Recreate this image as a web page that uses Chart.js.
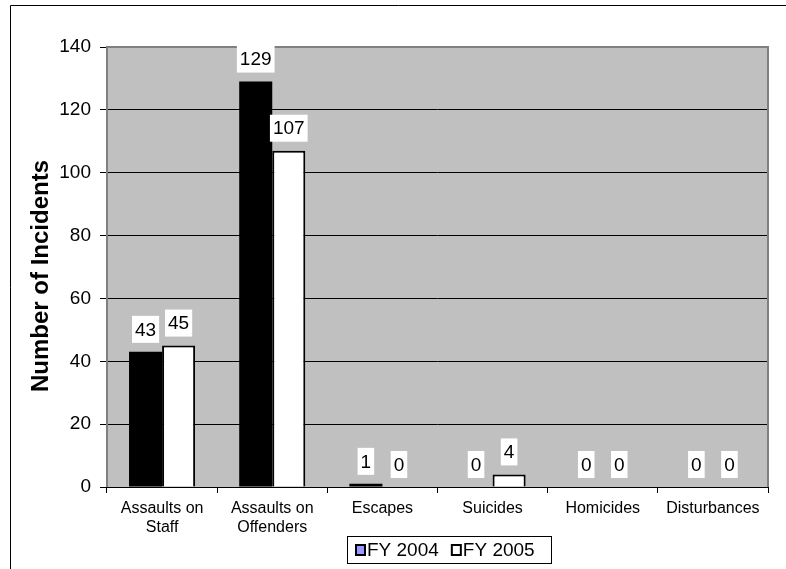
<!DOCTYPE html>
<html>
<head>
<meta charset="utf-8">
<script src="https://cdn.jsdelivr.net/npm/chart.js@4"></script>
<style>
  html, body { margin: 0; padding: 0; background: #fff; }
  #wrap { width: 786px; height: 569px; }
</style>
</head>
<body>
<div id="wrap"><canvas id="chart"></canvas></div>
<script>
const categories = [['Assaults on', 'Staff'], ['Assaults on', 'Offenders'], 'Escapes', 'Suicides', 'Homicides', 'Disturbances'];
const fy2004 = [43, 129, 1, 0, 0, 0];
const fy2005 = [45, 107, 0, 4, 0, 0];
const yTicks = [0, 20, 40, 60, 80, 100, 120, 140];
const yTitle = 'Number of Incidents';
const legendColors = ['#9999ff', '#ffffff'];

const FONT = 'Arial, "Liberation Sans", sans-serif';

// frame, plot background, plot border, axis title
const backdrop = {
    id: 'backdrop',
    beforeDraw(chart) {
        const { ctx, chartArea: a } = chart;
        ctx.save();
        ctx.strokeStyle = '#000';
        ctx.lineWidth = 1;
        ctx.beginPath();
        ctx.moveTo(10.5, 569);
        ctx.lineTo(10.5, 5.5);
        ctx.lineTo(786, 5.5);
        ctx.stroke();
        ctx.fillStyle = '#c0c0c0';
        ctx.fillRect(a.left, a.top, a.right - a.left, a.bottom - a.top);

        ctx.translate(41, (a.top + a.bottom) / 2 + 9);
        ctx.rotate(-Math.PI / 2);
        ctx.fillStyle = '#000';
        ctx.font = 'bold 24px ' + FONT;
        ctx.textAlign = 'center';
        ctx.textBaseline = 'middle';
        ctx.fillText(yTitle, 0, 0);
        ctx.restore();
    },
    beforeDatasetsDraw(chart) {
        const { ctx, chartArea: a } = chart;
        ctx.save();
        ctx.strokeStyle = '#808080';
        ctx.lineWidth = 2;
        ctx.beginPath();
        ctx.moveTo(a.left, a.bottom);
        ctx.lineTo(a.left, a.top);
        ctx.lineTo(a.right, a.top);
        ctx.lineTo(a.right, a.bottom);
        ctx.stroke();
        ctx.restore();
    }
};

// value labels on white boxes above each bar
const valueLabels = {
    id: 'valueLabels',
    afterDatasetsDraw(chart) {
        const { ctx } = chart;
        ctx.save();
        ctx.font = '19px ' + FONT;
        ctx.textAlign = 'center';
        ctx.textBaseline = 'middle';
        chart.data.datasets.forEach((ds, i) => {
            chart.getDatasetMeta(i).data.forEach((bar, j) => {
                const txt = String(ds.data[j]);
                const w = ctx.measureText(txt).width + 6;
                const h = 27;
                const bottom = bar.y - 9;
                ctx.fillStyle = '#fff';
                ctx.fillRect(bar.x - w / 2, bottom - h, w, h);
                ctx.fillStyle = '#000';
                ctx.fillText(txt, bar.x, bottom - h / 2 + 1);
            });
        });
        ctx.restore();
    }
};

// boxed legend below the axis
const boxLegend = {
    id: 'boxLegend',
    afterDraw(chart) {
        const { ctx } = chart;
        ctx.save();
        ctx.font = '19px ' + FONT;
        ctx.textBaseline = 'middle';
        ctx.textAlign = 'left';
        const cy = 550;
        let x = 355;
        chart.data.datasets.forEach((ds, i) => {
            ctx.fillStyle = legendColors[i];
            ctx.fillRect(x + 1, cy - 5, 9, 10);
            ctx.strokeStyle = '#000';
            ctx.lineWidth = 2;
            ctx.strokeRect(x + 1, cy - 5, 9, 10);
            ctx.fillStyle = '#000';
            ctx.fillText(ds.label, x + 12, cy + 1);
            x += 12 + ctx.measureText(ds.label).width + 12;
        });
        ctx.strokeStyle = '#000';
        ctx.lineWidth = 1;
        ctx.strokeRect(347.5, 536.5, Math.round(x - 12 + 16 - 347), 27);
        ctx.restore();
    }
};

new Chart(document.getElementById('chart'), {
    type: 'bar',
    data: {
        labels: categories,
        datasets: [
            {
                label: 'FY 2004',
                data: fy2004,
                backgroundColor: '#000',
                borderColor: '#000',
                borderWidth: 0,
                categoryPercentage: 0.6,
                barPercentage: 1
            },
            {
                label: 'FY 2005',
                data: fy2005,
                backgroundColor: '#fff',
                borderColor: '#000',
                borderWidth: 2,
                categoryPercentage: 0.6,
                barPercentage: 1
            }
        ]
    },
    options: {
        responsive: true,
        maintainAspectRatio: false,
        animation: false,
        layout: { padding: { top: 47, right: 18, left: 0, bottom: 32 } },
        plugins: {
            tooltip: { enabled: false },
            legend: { display: false }
        },
        scales: {
            x: {
                grid: { drawOnChartArea: false, color: '#000', tickLength: 6, offset: true },
                border: { color: '#000', width: 1 },
                ticks: { color: '#000', font: { family: FONT, size: 16 }, maxRotation: 0, autoSkip: false, padding: 6 },
                afterFit(scale) {
                    scale.height = 50;
                }
            },
            y: {
                min: yTicks[0],
                max: yTicks[yTicks.length - 1],
                afterBuildTicks(scale) {
                    scale.ticks = yTicks.map(v => ({ value: v }));
                },
                grid: { color: '#000', tickLength: 7 },
                border: { display: false },
                ticks: { color: '#000', font: { family: FONT, size: 19 }, padding: 9 },
                afterFit(scale) {
                    scale.width = 107;
                }
            }
        }
    },
    plugins: [backdrop, valueLabels, boxLegend]
});
</script>
</body>
</html>
